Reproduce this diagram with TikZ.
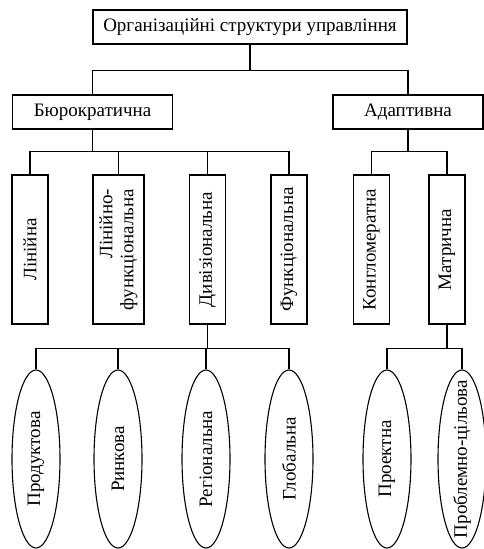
\documentclass[tikz,border=0pt]{standalone}
\usepackage{fontspec}
\setmainfont{Liberation Serif}
\usetikzlibrary{shapes.geometric}

\begin{document}
\begin{tikzpicture}[
      x = 1pt, y = -1pt,
      font = \fontsize{19}{21}\selectfont,
      every path/.style = {line width = 1.1pt},
      hbox/.style={
        draw,
        fill = white,
        inner sep = 2pt,
        minimum height = 34pt,
      },
      vbox/.style={
        draw,
        fill = white,
        rotate = 90,
        inner sep = 2pt,
        minimum width = 149pt,
        minimum height = 36pt,
        align = right,
      },
      oval/.style={
        draw,
        fill = white,
        ellipse,
        rotate = 90,
        inner xsep = -40pt,
        inner ysep = -10pt,
        minimum width = 178pt,
        minimum height = 48pt,
      },
    ]
    \useasboundingbox (0,0) rectangle (483,549);

    % top level
    \node[hbox, minimum width = 314pt] (org) at (250,27) {Організаційні структури управління};
    \node[hbox, minimum width = 160pt] (bur) at (92.5,112) {Бюрократична};
    \node[hbox, minimum width = 150pt] (adp) at (408,112) {Адаптивна};

    % second level
    \node[vbox] (lin) at (30,249.5) {Лінійна};
    \node[vbox, minimum height = 51pt] (linf) at (118.5,249.5) {Лінійно-\\функціональна};
    \node[vbox] (div) at (207.5,249.5) {Дивізіональна};
    \node[vbox] (fun) at (289,249.5) {Функціональна};
    \node[vbox] (kon) at (371.5,249.5) {Конгломератна};
    \node[vbox] (mat) at (447,249.5) {Матрична};

    % third level
    \node[oval] (prod) at (36,459) {Продуктова};
    \node[oval] (rynk) at (118,459) {Ринкова};
    \node[oval] (reg) at (206,459) {Регіональна};
    \node[oval] (glob) at (289,459) {Глобальна};
    \node[oval] (proj) at (387,459) {Проектна};
    \node[oval] (probl) at (462,459) {Проблемно-цільова};

    % connectors
    \foreach \t in {bur, adp}
      \draw (org.south) -- ++(0,26) -| (\t.north);
    \foreach \t in {lin, linf, div, fun}
      \draw (bur.south) -- ++(0,22) -| (\t.east);
    \foreach \t in {kon, mat}
      \draw (adp.south) -- ++(0,22) -| (\t.east);
    \foreach \t in {prod, rynk, reg, glob}
      \draw (div.west) -- ++(0,24) -| (\t.east);
    \foreach \t in {proj, probl}
      \draw (mat.west) -- ++(0,24) -| (\t.east);
  \end{tikzpicture}
\end{document}
